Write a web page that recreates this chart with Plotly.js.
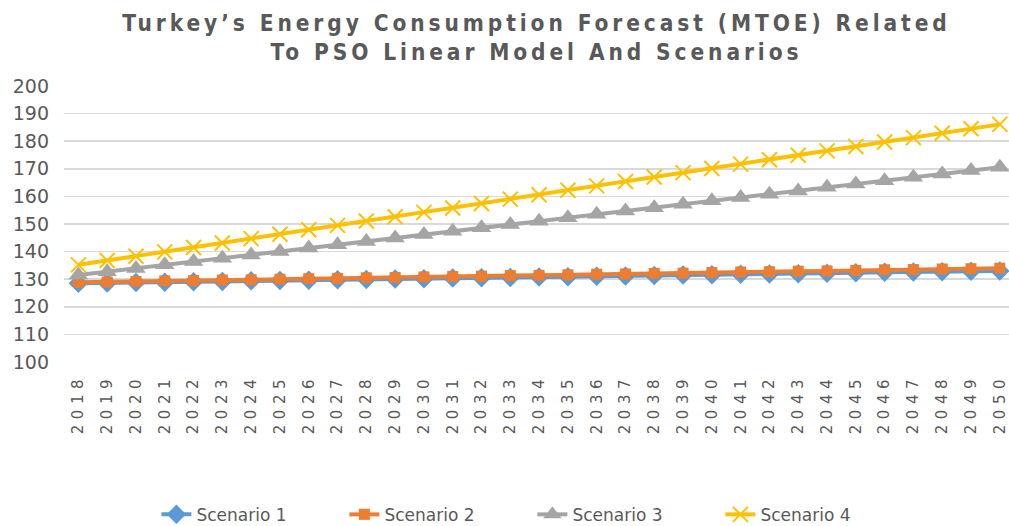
<!DOCTYPE html>
<html>
<head>
<meta charset="utf-8">
<script src="https://cdn.plot.ly/plotly-3.0.1.min.js"></script>
<style>
html,body{margin:0;padding:0;background:#fff;}
#chart{width:1009px;height:526px;}
.gtitle{letter-spacing:3.9px;}
.xtick text{letter-spacing:5.5px;}
</style>
</head>
<body>
<div id="chart"></div>
<script>
var years = ["2018","2019","2020","2021","2022","2023","2024","2025","2026","2027","2028","2029","2030","2031","2032","2033","2034","2035","2036","2037","2038","2039","2040","2041","2042","2043","2044","2045","2046","2047","2048","2049","2050"];
var scenario1 = [128.5,128.6,128.8,128.9,129.1,129.2,129.4,129.5,129.6,129.8,129.9,130.1,130.2,130.4,130.5,130.6,130.8,130.9,131.1,131.2,131.3,131.5,131.6,131.8,131.9,132.0,132.2,132.3,132.5,132.6,132.7,132.9,133.0];
var scenario2 = [128.9,129.0,129.2,129.4,129.5,129.7,129.8,130.0,130.2,130.3,130.5,130.6,130.8,131.0,131.1,131.3,131.4,131.6,131.8,131.9,132.1,132.2,132.4,132.6,132.7,132.9,133.0,133.2,133.4,133.5,133.7,133.8,134.0];
var scenario3 = [131.5,132.7,133.9,135.2,136.4,137.6,138.8,140.0,141.3,142.5,143.7,144.9,146.2,147.4,148.6,149.8,151.0,152.3,153.5,154.7,155.9,157.2,158.4,159.6,160.8,162.0,163.3,164.5,165.7,166.9,168.1,169.4,170.6];
var scenario4 = [135.2,136.8,138.3,139.9,141.5,143.1,144.7,146.3,147.9,149.5,151.1,152.6,154.2,155.8,157.4,159.0,160.6,162.2,163.8,165.4,167.0,168.6,170.1,171.7,173.3,174.9,176.5,178.1,179.7,181.3,182.9,184.5,186.1];
var seriesNames = ["Scenario 1","Scenario 2","Scenario 3","Scenario 4"];

var traces = [
  {x: years, y: scenario1, name: seriesNames[0], type: 'scatter', mode: 'lines+markers',
   line: {color: '#5B9BD5', width: 4}, marker: {symbol: 'diamond', size: 15, color: '#5B9BD5'}},
  {x: years, y: scenario2, name: seriesNames[1], type: 'scatter', mode: 'lines+markers',
   line: {color: '#ED7D31', width: 4}, marker: {symbol: 'square', size: 11, color: '#ED7D31'}},
  {x: years, y: scenario3, name: seriesNames[2], type: 'scatter', mode: 'lines+markers',
   line: {color: '#A5A5A5', width: 4}, marker: {symbol: 'triangle-up', size: 17, color: '#A5A5A5'}},
  {x: years, y: scenario4, name: seriesNames[3], type: 'scatter', mode: 'lines+markers',
   line: {color: '#FFC000', width: 4}, marker: {symbol: 'x-thin', size: 15, color: '#FFC000', line: {color: '#FFC000', width: 2}}}
];

var layout = {
  width: 1009, height: 526,
  paper_bgcolor: '#ffffff', plot_bgcolor: '#ffffff',
  margin: {l: 64, r: 0, t: 86, b: 164},
  title: {
    text: 'Turkey\u2019s Energy Consumption Forecast (MTOE) Related<br>To PSO Linear Model And Scenarios',
    font: {family: 'DejaVu Sans Condensed, DejaVu Sans', size: 22.5, color: '#595959', weight: 'bold'},
    x: 0.5, xref: 'paper', xanchor: 'center',
    y: 0.942, yref: 'container', yanchor: 'top'
  },
  xaxis: {
    type: 'category', range: [-0.5, 32.32],
    tickangle: -90, showgrid: false, zeroline: false, showline: false, ticks: '',
    tickfont: {family: 'DejaVu Sans, Roboto', size: 15, color: '#595959'},
    ticklabelstandoff: 8
  },
  yaxis: {
    range: [100, 200], dtick: 10, tick0: 100,
    showgrid: true, gridcolor: '#D9D9D9', gridwidth: 1.5, zeroline: false, showline: false, ticks: '',
    tickfont: {family: 'DejaVu Sans, Roboto', size: 19, color: '#595959'},
    ticklabelstandoff: 14
  },
  legend: {
    orientation: 'h', x: 0.155, xanchor: 'left', xref: 'container',
    y: 0.0555, yanchor: 'top', yref: 'container',
    font: {family: 'DejaVu Sans, Roboto', size: 17, color: '#595959'},
    entrywidth: 143, entrywidthmode: 'pixels', traceorder: 'normal'
  },
  showlegend: true
};

Plotly.newPlot('chart', traces, layout, {displayModeBar: false, staticPlot: true});
</script>
</body>
</html>
